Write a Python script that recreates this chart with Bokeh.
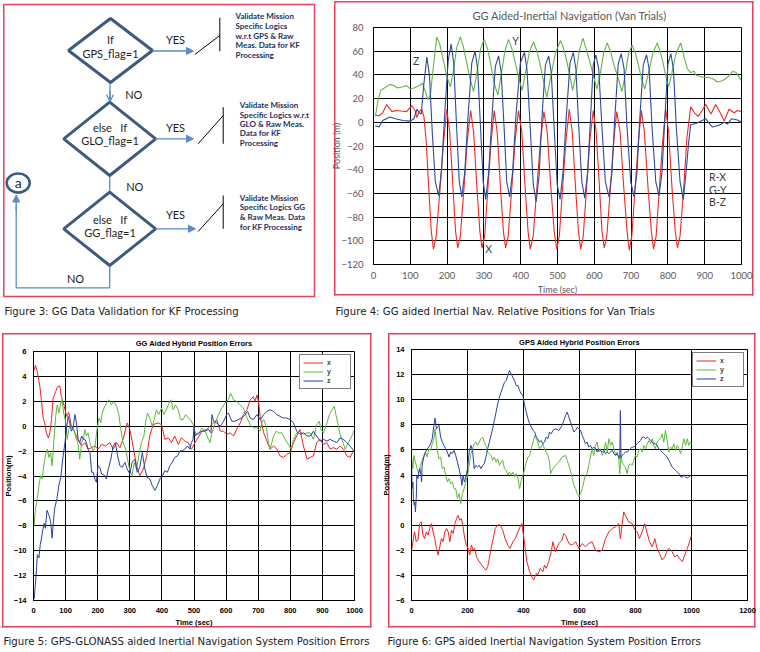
from bokeh.plotting import figure
from bokeh.layouts import column, row
from bokeh.models import (Range1d, SingleIntervalTicker, Arrow, NormalHead, OpenHead, Title)
from bokeh.core.properties import value
from bokeh.embed import file_html
from bokeh.resources import INLINE

PINK = "#e6405f"
DIAM = "#3e5a7e"
ARROWC = "#5b8bc8"
NAVY = "#23305e"
RED4, GREEN4, BLUE4 = "#ec2a26", "#62b548", "#2f4a9e"
RED, GREEN, BLUE = "#ee2222", "#5cb83a", "#2a40a0"
CAP_FONT = "DejaVu Sans Condensed"

# ---------------- Figure 3 (flowchart) texts ----------------
fc_conditions = [["If", "GPS_flag=1"], ["else\u00a0\u00a0 If", "GLO_flag=1"], ["else\u00a0\u00a0 If", "GG_flag=1"]]
fc_actions = [
    ["Validate Mission", "Specific Logics", "w.r.t GPS &  Raw", "Meas. Data for KF", "Processing"],
    ["Validate Mission", "Specific Logics w.r.t", "GLO &  Raw Meas.", "Data for KF", "Processing"],
    ["Validate Mission", "Specific Logics GG", "&  Raw Meas. Data", "for KF Processing"],
]
fc_yes = "YES"
fc_no = "NO"
fc_connector = "a"

# ---------------- Figure 4 data: (time s, position m) ----------------
f4_x = [(5,6),(15,5.5),(25,8),(36,15),(50,9),(62,10),(75,9.5),(90,9),(104,14),(113,10),(118,4),(124,9),(131,11),
        (137,5),(143,-15),(150,-55),(157,-92),(163,-107),(170,-97),(180,-60),(190,-18),(199,11),(207,-8),(216,-55),
        (223,-92),(229,-106),(236,-96),(246,-55),(255,-15),(264,10),(272,-8),(281,-55),(289,-92),(295,-106),(302,-96),
        (311,-55),(320,-15),(328,10),(336,-8),(345,-55),(353,-92),(359,-106),(366,-96),(376,-55),(385,-15),(394,10),
        (403,-8),(412,-55),(420,-92),(426,-107),(434,-96),(444,-55),(454,-15),(463,9),(472,-8),(482,-55),(491,-92),
        (498,-107),(505,-96),(514,-55),(523,-15),(532,11),(540,-8),(549,-55),(557,-92),(563,-107),(570,-96),(579,-55),
        (588,-15),(597,10),(605,-8),(614,-55),(621,-92),(627,-106),(634,-96),(644,-55),(653,-15),(661,9),(670,-8),
        (680,-55),(689,-92),(695,-108),(702,-96),(711,-55),(720,-15),(728,10),(736,-8),(746,-55),(755,-92),(761,-107),
        (768,-96),(777,-55),(786,-15),(794,11),(802,-8),(811,-55),(820,-92),(826,-106),(833,-96),(843,-55),(852,-12),
        (862,13),(872,8),(882,5),(893,10),(903,15),(917,7),(930,15),(944,7),(953,1),(966,11),(980,8),(989,10),(1000,9)]
f4_y = [(5,5),(12,18),(20,27),(35,30),(45,32),(55,31),(65,29),(80,30),(90,31),(100,28),(110,29),(125,31),(133,33),
        (140,27),(148,19),(155,24),(162,45),(172,72),(180,66),(190,52),(200,38),(209,30),(218,45),(226,63),(236,72),
        (244,64),(252,52),(262,37),(272,26),(281,42),(291,62),(301,70),(310,62),(318,50),(328,33),(338,23),(347,40),
        (357,60),(367,70),(376,62),(384,52),(394,38),(404,27),(413,42),(424,60),(435,68),(444,60),(452,50),(462,35),
        (471,21),(480,36),(494,58),(508,69),(517,62),(525,52),(533,40),(541,27),(550,40),(559,60),(569,71),(578,62),
        (587,52),(597,40),(607,28),(616,40),(625,58),(635,67),(644,60),(652,50),(664,38),(675,26),(684,40),(693,58),
        (703,65),(712,58),(720,48),(729,36),(737,28),(746,40),(759,58),(771,67),(779,60),(787,50),(795,38),(802,30),
        (811,42),(822,58),(835,67),(844,55),(853,45),(862,42),(871,43),(876,40),(894,38),(907,38),(921,37),(935,34),
        (948,35),(962,38),(976,43),(985,42),(1000,35)]
f4_z = [(5,-3),(15,-4),(25,1.5),(45,4.5),(60,3),(80,1.5),(100,1),(110,3),(118,11),(124,8),(130,7),(136,30),(145,55),
        (152,40),(160,-10),(168,-50),(177,-62),(185,-40),(194,10),(203,52),(211,66),(218,50),(226,-5),(233,-50),
        (240,-63),(248,-42),(257,5),(267,50),(276,60),(283,45),(291,-5),(298,-50),(305,-65),(313,-42),(322,5),(331,47),
        (340,56),(347,42),(355,-5),(362,-50),(370,-63),(378,-42),(387,5),(399,50),(410,59),(417,45),(426,-5),(434,-52),
        (442,-67),(450,-45),(458,5),(467,48),(476,56),(483,42),(491,-5),(499,-52),(507,-65),(515,-42),(524,5),(534,50),
        (543,59),(550,45),(558,-5),(566,-50),(574,-64),(582,-42),(590,5),(597,48),(604,57),(612,45),(621,-5),(630,-50),
        (640,-63),(648,-42),(656,5),(665,49),(673,58),(681,45),(689,-5),(699,-50),(708,-63),(716,-42),(724,5),(733,48),
        (742,57),(749,45),(757,-5),(767,-50),(776,-62),(784,-42),(792,5),(800,49),(808,58),(815,45),(823,-5),(833,-50),
        (842,-65),(850,-40),(857,-15),(862,-2),(876,-1),(890,1),(903,3),(915,-2),(921,-4),(939,-2.5),(953,0),
        (962,-1.5),(973,3),(989,2),(1000,0)]
f4_tags = ["Z", "Y", "X"]
f4_tag_t = [116, 386, 313]
f4_tag_v = [52, 69, -107]
f4_key = ["R-X", "G-Y", "B-Z"]
f4_key_t = [912, 912, 912]
f4_key_v = [-46, -57, -67]

# ---------------- Figure 5 data ----------------
f5_x = [(2,4.5),(6,4.89),(12,4.37),(20,3.17),(25,1.98),(30,0.66),(35,0.26),(40,-0.53),(46,-0.93),(51,-0.53),(56,0.53),
        (61,2.25),(69,2.78),(75,3.17),(82,3.23),(87,2.38),(96,1.59),(103,0.79),(110,1.11),(118,0),(129,-0.53),
        (139,-1.06),(150,-1.59),(160,-1.32),(170,-1.85),(181,-1.72),(191,-1.59),(201,-1.85),(212,-1.46),(224,-1.59),
        (238,-1.32),(248,-1.85),(259,-1.32),(269,-1.72),(279,-1.06),(292,0.26),(300,-0.26),(310,-1.59),(321,-3.17),
        (331,-3.97),(342,-3.44),(352,-2.51),(362,-0.79),(373,0.13),(388,0.26),(399,0.13),(409,-1.06),(420,-0.93),
        (430,-1.32),(440,-0.79),(451,-1.46),(461,-0.93),(471,-1.19),(482,-1.32),(492,-1.85),(503,-1.32),(509,-1.06),
        (525,-0.4),(540,-0.26),(550,0),(561,0.26),(571,0.53),(582,-0.4),(592,-0.4),(602,-0.66),(613,-0.53),
        (623,-0.79),(633,-0.26),(644,0.26),(654,0.93),(665,1.32),(675,2.12),(685,2.38),(690,1.98),(696,2.51),
        (701,1.98),(706,0.79),(717,-0.53),(727,-1.19),(737,-1.85),(748,-1.59),(758,-1.85),(768,-2.38),(779,-2.51),
        (789,-2.25),(800,-2.12),(810,-1.32),(820,-0.79),(830,-0.26),(841,-1.59),(852,-2.65),(862,-2.51),(872,-2.38),
        (882,-1.32),(893,-1.06),(903,-1.46),(914,-1.32),(924,-1.85),(934,-1.72),(945,-1.85),(955,-1.59),(966,-1.85),
        (976,-2.38),(986,-2.51),(994,-2.12),(1000,-1.98)]
f5_y = [(2,-7.94),(6,-6.61),(12,-5.82),(17,-4.76),(22,-3.97),(27,-4.23),(32,-3.17),(37,-2.38),(43,-1.85),(48,-2.51),
        (53,-2.12),(58,-3.17),(63,-1.32),(69,0.79),(74,1.72),(79,1.06),(84,1.72),(89,2.12),(94,1.06),(100,0.4),
        (105,-1.06),(110,-0.26),(115,0.13),(124,-0.13),(131,-0.79),(139,-1.46),(144,-2.65),(150,-1.32),(155,-1.06),
        (160,-0.26),(165,-0.79),(170,-0.53),(176,-1.32),(181,-1.72),(186,-1.98),(191,-1.72),(198,-0.26),(204,0.66),
        (210,0.26),(214,1.06),(220,1.46),(227,1.85),(235,2.12),(243,1.72),(250,1.98),(259,1.59),(266,0.93),
        (272,-0.26),(279,-1.32),(287,-1.85),(293,-2.65),(300,-3.57),(307,-3.97),(314,-2.91),(321,-3.44),(328,-2.38),
        (336,-1.32),(344,-0.79),(349,0.26),(355,1.06),(362,0.66),(370,0),(376,0.53),(383,1.32),(390,0.93),(399,1.46),
        (406,0.93),(414,1.32),(422,1.85),(428,2.12),(435,1.32),(442,1.72),(451,1.32),(458,0.53),(466,0.53),(474,0.93),
        (482,0.66),(489,0.53),(497,0.13),(504,-0.53),(514,-0.66),(525,-0.13),(535,-0.4),(545,-1.06),(550,-1.32),
        (556,-0.53),(566,0.26),(576,0.93),(587,1.46),(597,1.85),(607,2.12),(614,2.65),(623,2.12),(633,1.98),(644,1.72),
        (654,1.46),(665,0.66),(675,0.13),(685,-0.13),(696,-0.13),(706,-0.4),(711,0.26),(717,0.53),(725,0),(732,-1.32),
        (737,-1.85),(748,-0.79),(756,-0.4),(763,-0.53),(773,-0.53),(784,-1.06),(794,-1.46),(803,-1.85),(810,-1.06),
        (820,-0.53),(830,-0.4),(841,-0.66),(852,-0.53),(862,-0.53),(872,-1.06),(882,0.13),(890,0.4),(896,-0.26),
        (903,-0.53),(914,0.26),(922,0.93),(930,1.32),(937,1.59),(942,0.93),(948,0.26),(955,-0.66),(964,-1.32),
        (971,-1.85),(978,-1.46),(986,-1.06),(994,-0.66),(1000,-0.26)]
f5_z = [(2,-13.89),(6,-12.7),(9,-11.64),(12,-10.32),(17,-10.58),(21,-9.52),(25,-8.99),(29,-8.33),(33,-7.8),(37,-8.2),
        (42,-6.75),(46,-7.01),(50,-7.28),(54,-7.8),(58,-8.99),(62,-7.67),(66,-6.61),(73,-5.82),(79,-4.76),(85,-4.1),
        (91,-2.65),(98,-1.32),(103,-0.13),(108,0.79),(113,0.26),(118,-0.4),(124,0),(129,0.93),(134,0.26),(139,-1.06),
        (144,-1.32),(150,-0.79),(155,-1.06),(160,-1.06),(165,-1.32),(170,-1.85),(176,-2.12),(181,-3.7),(186,-3.7),
        (191,-4.23),(196,-4.5),(201,-3.17),(207,-3.31),(212,-3.84),(222,-3.97),(227,-4.23),(233,-3.44),(241,-2.65),
        (248,-1.59),(255,-1.32),(262,-2.38),(269,-3.17),(276,-3.31),(285,-2.91),(292,-3.44),(300,-3.84),(307,-2.91),
        (316,-2.65),(323,-3.7),(331,-3.31),(339,-2.12),(347,-3.44),(354,-4.1),(362,-4.23),(370,-4.76),(378,-5.16),
        (386,-4.76),(394,-4.23),(402,-3.97),(409,-3.57),(417,-3.7),(425,-3.17),(432,-2.91),(440,-2.51),(449,-2.38),
        (456,-1.98),(463,-1.98),(471,-1.85),(480,-1.59),(487,-1.85),(492,-1.32),(497,-1.06),(500,0),(504,-0.79),
        (514,-0.53),(525,-0.4),(535,-0.4),(545,-0.26),(553,-0.53),(556,0.93),(561,0.4),(571,0.26),(582,0),(592,0.4),
        (602,0.93),(607,1.06),(618,0.4),(628,0.4),(638,0.53),(649,0.66),(659,0.93),(667,1.19),(675,0.66),(685,0.53),
        (696,0.93),(706,0.53),(717,0.93),(727,1.19),(737,1.32),(748,1.19),(758,0.93),(768,0.79),(779,0.66),(789,0.66),
        (800,0.53),(810,0.26),(820,-0.4),(830,-0.66),(841,-0.53),(852,-0.79),(862,-0.79),(872,-0.4),(882,-0.79),
        (893,-1.19),(903,-1.06),(914,-1.19),(924,-1.06),(934,-1.19),(945,-1.32),(955,-0.93),(966,-1.06),(976,-1.32),
        (986,-1.59),(994,-1.85),(1000,-2.12)]

# ---------------- Figure 6 data ----------------
f6_x = [(0,-1.99),(5,-1.32),(11,-0.53),(17,-1.32),(23,-1.19),(29,0.13),(35,0.26),(41,-0.79),(47,-1.06),(53,-0.53),
        (59,-0.79),(65,-0.26),(71,0.13),(77,-0.53),(83,-1.06),(89,-1.85),(95,-2.38),(101,-1.72),(107,-1.06),
        (113,-1.32),(119,-0.53),(125,-0.26),(131,-0.53),(137,-1.32),(143,-0.4),(149,-0.66),(155,0.13),(161,0.53),
        (166,0.79),(172,0.4),(178,0.53),(184,-0.13),(190,-1.06),(196,-1.59),(202,-1.85),(208,-2.38),(214,-1.59),
        (220,-1.99),(226,-1.85),(232,-2.52),(242,-2.91),(251,-3.18),(260,-3.44),(266,-3.58),(272,-3.31),(278,-2.65),
        (284,-1.85),(292,-1.06),(299,-0.26),(308,0),(316,0.05),(326,-0.4),(334,-1.06),(344,-1.59),(352,-1.85),
        (362,-1.32),(371,-1.06),(380,-0.53),(388,-0.13),(394,0.13),(400,-0.79),(406,-1.85),(412,-2.91),(422,-3.71),
        (430,-4.11),(436,-4.37),(446,-3.84),(451,-3.97),(460,-3.44),(469,-3.71),(475,-3.18),(481,-3.44),(490,-2.91),
        (499,-2.12),(505,-1.32),(514,-2.12),(526,-1.46),(538,-1.19),(544,-0.66),(550,-0.79),(562,-1.46),(574,-1.59),
        (586,-1.32),(598,-1.85),(610,-1.46),(621,-1.72),(633,-1.46),(645,-1.32),(657,-1.99),(669,-2.12),(681,-1.99),
        (693,-1.06),(705,-0.53),(717,-0.26),(729,-0.13),(740,0.13),(746,-1.06),(752,0),(758,1.06),(767,0.66),
        (776,0.26),(788,0.13),(798,-0.4),(806,-0.53),(814,-1.06),(824,-0.53),(833,0.13),(842,-0.66),(850,-1.32),
        (860,-1.72),(869,-1.06),(877,-1.85),(886,-2.25),(895,-2.78),(905,-2.52),(913,-1.99),(921,-1.85),(931,-2.12),
        (940,-2.52),(949,-2.38),(957,-2.65),(967,-2.91),(976,-2.38),(985,-1.85),(993,-1.32),(1000,-0.79)]
f6_y = [(0,5.43),(5,4.5),(8,5.56),(14,5.03),(20,4.5),(26,4.11),(32,4.77),(38,5.17),(44,5.56),(50,5.83),(56,5.43),
        (62,6.09),(68,5.96),(74,6.49),(80,6.89),(84,7.68),(89,6.62),(92,5.96),(98,5.3),(104,5.43),(110,4.5),(116,4.64),
        (122,3.97),(128,3.44),(134,3.71),(140,3.31),(146,3.44),(152,2.91),(158,2.91),(164,2.12),(170,2.52),(176,1.72),
        (182,2.52),(188,2.91),(194,3.44),(200,3.97),(206,4.77),(212,5.7),(218,6.09),(224,6.49),(230,6.62),(236,6.36),
        (242,6.62),(248,6.89),(254,7.02),(260,6.62),(266,6.36),(272,5.83),(278,5.7),(284,5.56),(290,5.17),(296,5.43),
        (302,5.03),(308,5.3),(314,4.77),(320,5.03),(326,5.17),(332,4.5),(338,4.37),(344,3.97),(350,4.24),(356,3.97),
        (362,4.24),(368,3.84),(374,4.11),(380,3.71),(386,2.91),(392,3.58),(398,3.97),(404,4.5),(410,5.03),(416,5.43),
        (422,5.56),(428,6.09),(434,6.62),(440,7.15),(446,6.89),(451,6.62),(457,6.09),(463,6.23),(469,6.49),(475,6.09),
        (481,5.83),(487,5.56),(493,5.03),(497,4.11),(502,4.37),(514,4.77),(526,5.03),(538,5.43),(550,5.56),(556,5.17),
        (562,4.77),(568,4.37),(574,3.71),(580,3.18),(586,2.91),(592,2.52),(598,2.25),(604,2.52),(610,2.91),(615,3.44),
        (621,3.97),(627,4.11),(633,4.77),(639,5.43),(645,6.09),(651,5.56),(657,6.36),(663,6.62),(669,5.83),(675,6.09),
        (681,5.56),(687,5.83),(693,6.62),(699,5.83),(705,6.89),(711,6.36),(717,6.62),(723,6.09),(729,5.56),(735,5.83),
        (740,5.3),(744,4.11),(748,5.56),(752,5.03),(758,4.77),(764,4.64),(770,4.11),(776,4.77),(782,4.9),(788,4.77),
        (794,5.17),(800,5.56),(806,5.43),(812,5.96),(818,6.09),(824,5.83),(830,6.36),(836,6.09),(842,6.49),(848,6.75),
        (854,6.49),(860,6.89),(865,6.36),(871,6.09),(877,6.62),(883,6.75),(889,6.89),(895,7.28),(901,6.62),(907,7.55),
        (913,6.75),(919,5.83),(925,6.23),(931,6.09),(937,6.49),(943,5.96),(949,6.36),(955,6.09),(961,5.7),(967,6.23),
        (973,6.89),(979,6.36),(985,6.89),(990,6.36),(996,6.62),(1000,6.49)]
f6_z = [(0,5.3),(2,2.91),(5,3.44),(7,2.12),(10,1.59),(12,1.85),(14,1.06),(17,2.12),(19,3.97),(23,3.71),(26,4.24),
        (30,4.5),(34,3.97),(36,3.44),(38,4.77),(44,5.43),(50,5.83),(56,6.09),(62,6.23),(68,6.49),(74,6.89),(80,7.95),
        (84,8.53),(89,7.68),(93,7.81),(98,7.95),(104,7.02),(110,6.62),(116,6.36),(122,6.09),(128,5.83),(134,5.43),
        (140,5.83),(146,5.7),(152,5.96),(158,5.56),(164,5.03),(170,4.5),(176,3.84),(180,3.18),(184,3.97),(189,3.44),
        (194,3.84),(200,4.5),(206,5.83),(212,6.36),(218,5.96),(224,4.5),(230,4.77),(236,4.64),(242,4.77),(248,4.5),
        (254,4.77),(260,4.9),(266,5.43),(272,6.09),(278,6.62),(284,7.15),(290,7.68),(296,8.34),(302,9.01),(308,9.67),
        (314,10.2),(320,10.6),(326,10.99),(332,11.39),(338,11.52),(344,11.92),(350,12.32),(356,12.05),(362,11.79),
        (368,11.52),(374,11.13),(380,11.13),(386,10.73),(392,10.46),(398,10.33),(404,9.54),(410,9.01),(416,8.48),
        (422,8.08),(428,7.81),(434,7.55),(440,7.42),(446,7.02),(451,6.89),(457,6.62),(463,6.75),(469,6.49),(475,6.62),
        (481,7.02),(487,6.89),(493,7.42),(499,7.28),(505,7.55),(514,7.68),(526,7.55),(538,7.95),(544,8.34),(550,8.74),
        (556,9.01),(562,8.61),(568,8.21),(574,7.81),(580,7.42),(586,7.55),(592,7.81),(598,7.68),(604,7.55),(610,7.15),
        (615,6.89),(621,6.49),(627,6.62),(633,6.23),(639,6.36),(645,6.09),(651,6.23),(657,6.09),(663,5.83),(669,6.09),
        (675,5.96),(681,5.83),(687,5.96),(693,5.7),(699,5.83),(705,5.7),(711,5.83),(717,5.96),(723,5.7),(729,5.56),
        (735,5.7),(740,5.43),(744,5.3),(746,9.14),(748,5.43),(752,5.56),(758,5.7),(764,5.83),(770,5.83),(776,5.96),
        (782,6.09),(788,6.23),(794,6.23),(800,6.36),(806,6.49),(812,6.62),(818,6.75),(824,7.02),(830,7.02),(836,6.89),
        (842,7.02),(848,6.89),(854,6.75),(860,6.62),(865,6.49),(871,6.49),(877,6.36),(883,6.09),(889,5.96),(895,5.83),
        (901,5.7),(907,5.56),(913,5.43),(919,5.17),(925,4.9),(931,4.64),(937,4.5),(943,4.37),(949,4.24),(955,4.11),
        (961,3.84),(967,3.84),(973,3.97),(979,3.84),(985,3.76),(990,3.84),(996,3.97),(1000,4.03)]

titles = ["GG Aided-Inertial Navigation (Van Trials)", "GG Aided Hybrid Position Errors", "GPS Aided Hybrid Position Errors"]
captions = ["Figure 3: GG Data Validation for KF Processing",
            "Figure 4: GG aided Inertial Nav. Relative Positions for Van Trials",
            "Figure 5: GPS-GLONASS aided Inertial Navigation System Position Errors",
            "Figure 6: GPS aided Inertial Navigation System Position Errors"]
series_names = ["x", "y", "z"]


def unzip(pairs):
    return [p[0] for p in pairs], [p[1] for p in pairs]


def no_align(p):
    if "frame_align" in p.properties():
        p.frame_align = False


def pink_box_styles(l, t, r, b, w=1.5):
    g = "linear-gradient(%s,%s)" % (PINK, PINK)
    return {
        "background-image": ",".join([g] * 4),
        "background-repeat": "no-repeat",
        "background-size": "%.1fpx %.1fpx, %.1fpx %.1fpx, %.1fpx %.1fpx, %.1fpx %.1fpx" % (
            r - l + w, w, r - l + w, w, w, b - t + w, w, b - t + w),
        "background-position": "%.1fpx %.1fpx, %.1fpx %.1fpx, %.1fpx %.1fpx, %.1fpx %.1fpx" % (
            l, t, l, b, l, t, r, t),
    }


def blank_canvas(w, h):
    p = figure(width=w, height=h, x_range=Range1d(0, w), y_range=Range1d(h, 0),
               output_backend="svg", toolbar_location=None, title=None, min_border=0,
               x_axis_type=None, y_axis_type=None)
    p.grid.visible = False
    p.outline_line_color = None
    p.background_fill_color = "white"
    p.border_fill_color = "white"
    no_align(p)
    return p


def caption_canvas(w, h, x, y, text):
    p = blank_canvas(w, h)
    p.text(x=[x], y=[y], text=[text], text_font=value(CAP_FONT), text_font_size="11.3px",
           text_align="left", text_baseline="middle", text_color="#222222")
    return p


# ================= Figure 3: flowchart (pixel-space canvas) =================
f3 = blank_canvas(324, 322)
f3.quad(left=[3.3], right=[314], top=[4], bottom=[296], fill_color=None, line_color=PINK, line_width=1.5)

dcx = [110, 109.2, 109.2]
dcy = [50, 138.3, 228.3]
dhw = [42, 46, 46]
dhh = [32, 36.7, 36.7]
f3.line([109.5, 109.5], [82, 101], line_color=ARROWC, line_width=1.3)
f3.add_layout(Arrow(end=OpenHead(size=7, line_color=ARROWC, line_width=1.2), x_start=109.5, y_start=90,
                    x_end=109.5, y_end=101, line_color=ARROWC, line_width=1.3))
f3.line([109.2, 109.2], [175, 191.7], line_color=ARROWC, line_width=1.3)
f3.line([109.2, 109.2, 15.7, 15.7], [265, 287.3, 287.3, 205], line_color=ARROWC, line_width=1.3)
f3.add_layout(Arrow(end=NormalHead(size=7, fill_color=ARROWC, line_color=ARROWC), x_start=15.7, y_start=210,
                    x_end=15.7, y_end=194.5, line_color=ARROWC, line_width=1.3))
for (xs, xe, yy) in [(152, 193, 50.5), (155, 193, 138.3), (155, 195, 228.3)]:
    f3.add_layout(Arrow(end=NormalHead(size=7, fill_color=ARROWC, line_color=ARROWC), x_start=xs, y_start=yy,
                        x_end=xe, y_end=yy, line_color=ARROWC, line_width=1.3))
f3.patches([[cx - hw, cx, cx + hw, cx] for cx, hw in zip(dcx, dhw)],
           [[cy, cy - hh, cy, cy + hh] for cy, hh in zip(dcy, dhh)],
           fill_color="white", line_color=DIAM, line_width=3)
f3.segment(x0=[194.3, 197.7, 197.7, 219.3, 222.7, 222.7], y0=[54, 143.3, 231, 17.3, 106.7, 195],
           x1=[219.3, 222.7, 222.7, 219.3, 222.7, 222.7], y1=[35, 115, 203.3, 50.7, 143.3, 228.3],
           line_color="black", line_width=1)
f3.ellipse(x=[17.7], y=[182.5], width=[23], height=[19], fill_color="white", line_color=DIAM, line_width=2.6)
f3.text(x=[17.7], y=[181.5], text=[fc_connector], text_font=value("Lato"), text_font_size="14px",
        text_align="center", text_baseline="middle", text_color="#1b2a4a")
ct_x, ct_y, ct_t = [], [], []
for (l1, l2), cx, (y1, y2) in zip(fc_conditions, [110, 109.5, 109.5], [(39.3, 52.7), (127.3, 140), (218.7, 231.7)]):
    ct_x += [cx, cx]; ct_y += [y1, y2]; ct_t += [l1, l2]
f3.text(x=ct_x, y=ct_y, text=ct_t, text_font=value("Lato"), text_font_size="11px",
        text_align="center", text_baseline="middle", text_color="#1e1e1e")
f3.text(x=[175, 175, 175, 133.3, 134.3, 75], y=[39.3, 127.3, 214.3, 94.3, 186, 277.7],
        text=[fc_yes, fc_yes, fc_yes, fc_no, fc_no, fc_no], text_font=value("Lato"), text_font_size="11px",
        text_align="center", text_baseline="middle", text_color="#1e1e1e")
at_x, at_y, at_t = [], [], []
for lines, x0, ys in zip(fc_actions, [235, 239.3, 239.3],
                         [[15.7, 25.3, 35, 44.7, 54.3], [104.7, 114, 123.3, 132.7, 142.3], [197.3, 206.7, 216.7, 226.7]]):
    for ln, yy in zip(lines, ys):
        at_x.append(x0); at_y.append(yy); at_t.append(ln)
f3.text(x=at_x, y=at_y, text=at_t, text_font=value("Lato"), text_font_size="8px", text_font_style="bold",
        text_align="left", text_baseline="middle", text_color=NAVY)
f3.text(x=[4], y=[311], text=[captions[0]], text_font=value(CAP_FONT), text_font_size="11.3px",
        text_align="left", text_baseline="middle", text_color="#222222")


def make_chart(w, h, xr, yr, mb, xint, yint, box):
    p = figure(width=w, height=h, x_range=Range1d(*xr), y_range=Range1d(*yr), output_backend="svg",
               toolbar_location=None, title=None, min_border_left=mb[0], min_border_right=mb[1],
               min_border_top=mb[2], min_border_bottom=mb[3], styles=pink_box_styles(*box))
    no_align(p)
    p.xaxis.ticker = SingleIntervalTicker(interval=xint)
    p.yaxis.ticker = SingleIntervalTicker(interval=yint)
    for g in (p.xgrid, p.ygrid):
        g.grid_line_color = "black"
        g.grid_line_width = 1
        g.grid_line_alpha = 1
    for a in (p.xaxis, p.yaxis):
        a.minor_tick_line_color = None
        a.axis_line_color = "black"
        a.axis_label_text_font_style = "normal"
    p.outline_line_color = "black"
    p.outline_line_alpha = 1
    p.background_fill_color = "white"
    p.border_fill_color = None
    return p


# ================= Figure 4 =================
f4 = make_chart(435, 300, (0, 1000), (-120, 80), (49, 18, 27, 36), 100, 20, (10, 1, 428, 294))
for a in (f4.xaxis, f4.yaxis):
    a.major_tick_line_color = None
    a.major_label_text_font = "Lato"
    a.major_label_text_font_size = "9.5px"
    a.major_label_text_color = "#595959"
    a.axis_label_text_font = "Lato"
    a.axis_label_text_font_size = "9px"
    a.axis_label_text_color = "#595959"
f4.xaxis.major_label_standoff = 1
f4.xaxis.axis_label_standoff = 2
f4.yaxis.major_label_standoff = 4
f4.yaxis.axis_label_standoff = -4
f4.xaxis.axis_label = "Time (sec)"
f4.yaxis.axis_label = "Position (m)"
for data, col in ((f4_x, RED4), (f4_y, GREEN4), (f4_z, BLUE4)):
    t, v = unzip(data)
    f4.line(t, v, line_color=col, line_width=1.1)
f4.text(x=f4_tag_t, y=f4_tag_v, text=f4_tags, text_font=value("Lato"), text_font_size="10.5px",
        text_align="center", text_baseline="middle", text_color="#404040")
f4.text(x=f4_key_t, y=f4_key_v, text=f4_key, text_font=value("Lato"), text_font_size="10.5px",
        text_align="left", text_baseline="middle", text_color="#404040")
f4.add_layout(Title(text=titles[0], align="left", offset=99, standoff=12, text_font="Lato", text_font_size="11px",
                    text_font_style="normal", text_color="#595959"), "above")
cap4 = caption_canvas(435, 22, 11, 11, captions[1])


def matlab_style(p):
    for a in (p.xaxis, p.yaxis):
        a.major_tick_in = 3
        a.major_tick_out = 0
        a.major_tick_line_color = "black"
        a.major_label_text_font = "Liberation Sans"
        a.major_label_text_font_style = "bold"
        a.major_label_text_font_size = "7.5px"
        a.major_label_text_color = "black"
        a.major_label_standoff = 3
        a.axis_label_text_font = "Liberation Sans"
        a.axis_label_text_font_style = "bold"
        a.axis_label_text_font_size = "7.5px"
        a.axis_label_text_color = "black"
        a.axis_label_standoff = 2
    p.xaxis.axis_label = "Time (sec)"
    p.yaxis.axis_label = "Position(m)"


def style_legend(p):
    lg = p.legend[0]
    lg.location = "top_right"
    lg.margin = 3
    lg.padding = 3
    lg.spacing = 0
    lg.glyph_width = 20
    lg.glyph_height = 9
    lg.label_height = 9
    lg.label_standoff = 4
    lg.label_text_font = "Liberation Sans"
    lg.label_text_font_style = "bold"
    lg.label_text_font_size = "7px"
    lg.border_line_color = "black"
    lg.border_line_width = 1
    lg.background_fill_alpha = 1


# ================= Figure 5 =================
f5 = make_chart(378, 307, (0, 1000), (-14, 6), (33, 24, 29, 26), 100, 2, (2, 11, 370, 304))
matlab_style(f5)
f5.yaxis.axis_label_standoff = -2
for data, col, nm in ((f5_x, RED, series_names[0]), (f5_y, GREEN, series_names[1]), (f5_z, BLUE, series_names[2])):
    t, v = unzip(data)
    f5.line(t, v, line_color=col, line_width=1, legend_label=nm)
style_legend(f5)
f5.add_layout(Title(text=titles[1], align="center", standoff=7, text_font="Liberation Sans",
                    text_font_size="7.5px", text_font_style="bold", text_color="black"), "above")
cap5 = caption_canvas(378, 22, 3, 12, captions[2])

# ================= Figure 6 =================
f6 = make_chart(381, 307, (0, 1200), (-6, 14), (32, 12, 27, 28), 200, 2, (10, 11, 376, 304))
matlab_style(f6)
for data, col, nm in ((f6_x, RED, series_names[0]), (f6_y, GREEN, series_names[1]), (f6_z, BLUE, series_names[2])):
    t, v = unzip(data)
    f6.line(t, v, line_color=col, line_width=1, legend_label=nm)
style_legend(f6)
f6.add_layout(Title(text=titles[2], align="center", standoff=6, text_font="Liberation Sans",
                    text_font_size="7.5px", text_font_style="bold", text_color="black"), "above")
cap6 = caption_canvas(381, 22, 9, 12, captions[3])

layout = column(row(f3, column(f4, cap4)), row(column(f5, cap5), column(f6, cap6)))
open("out.html", "w").write(file_html(layout, INLINE, "Figures"))
